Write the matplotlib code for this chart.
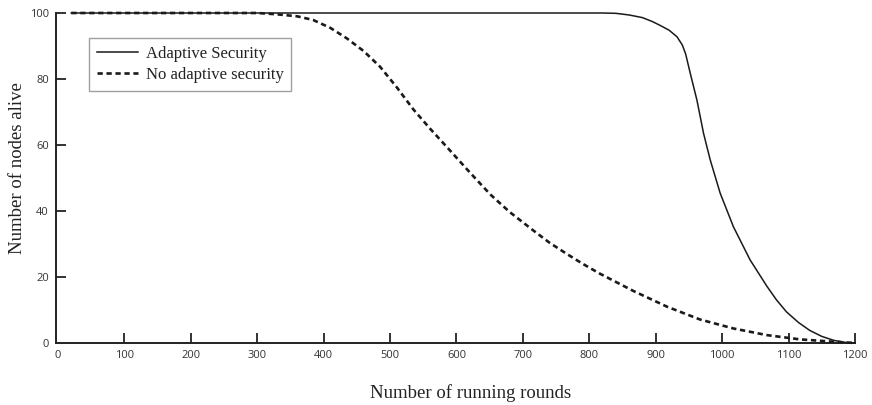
import matplotlib
matplotlib.use("Agg")
import matplotlib.pyplot as plt

# Rounds vs. alive nodes, with adaptive security
adaptive_rounds = [20, 300, 600, 820, 840, 860, 880, 895, 907, 920, 932, 940,
                   945, 952, 962, 972, 982, 997, 1017, 1042, 1067, 1082, 1097,
                   1115, 1132, 1150, 1168, 1185, 1200]
adaptive_alive = [100, 100, 100, 100, 99.9, 99.4, 98.6, 97.4, 96.2, 94.8,
                  92.8, 90.3, 87.6, 81.7, 73.6, 63.5, 55.5, 45.4, 35.2, 25.2,
                  17.3, 13.0, 9.4, 6.2, 3.8, 2.0, 0.8, 0.2, 0]

# Rounds vs. alive nodes, without adaptive security
plain_rounds = [20, 150, 300, 330, 360, 384, 410, 435, 460, 485, 510, 535, 560,
                585, 620, 651, 680, 715, 740, 766, 790, 816, 866, 917, 967,
                1017, 1067, 1117, 1167, 1200]
plain_alive = [100, 100, 100, 99.6, 99, 97.9, 95.5, 92.3, 88.5, 83.7, 77.5,
               70.8, 65, 59.5, 51.7, 45, 39.7, 34.2, 30.4, 27, 24, 21,
               15.8, 11, 7.1, 4.4, 2.4, 1.1, 0.4, 0]

x_ticks = [0, 100, 200, 300, 400, 500, 600, 700, 800, 900, 1000, 1100, 1200]
y_ticks = [0, 20, 40, 60, 80, 100]

W, H = 872, 405
fig = plt.figure(figsize=(W / 100, H / 100), dpi=100)
fig.patch.set_facecolor("white")
ax = fig.add_axes([56 / W, 1 - 343 / H, (855 - 56) / W, (343 - 13) / H])

ax.plot(adaptive_rounds, adaptive_alive, color="#1a1a1a", lw=1.1,
        label="Adaptive Security", clip_on=False, zorder=3)
ax.plot(plain_rounds, plain_alive, color="#1a1a1a", lw=1.9,
        linestyle=(0, (2.0, 1.4)), label="No adaptive security",
        clip_on=False, zorder=3)

ax.set_xlim(-3, 1200)
ax.set_ylim(0, 100)
ax.set_xticks(x_ticks)
ax.set_yticks(y_ticks)

for s in ("top", "right"):
    ax.spines[s].set_visible(False)
for s in ("left", "bottom"):
    ax.spines[s].set_linewidth(1.4)
    ax.spines[s].set_color("#222222")

ax.tick_params(axis="both", direction="in", length=7, width=1.3,
               color="#222222", labelcolor="#333333", labelsize=8)
ax.tick_params(axis="x", pad=5)
ax.tick_params(axis="y", pad=5)
for lbl in ax.get_xticklabels() + ax.get_yticklabels():
    lbl.set_family("Open Sans")
# the origin ticks sit on the spines, so their marks are not drawn
ax.xaxis.get_major_ticks()[0].tick1line.set_visible(False)
ax.yaxis.get_major_ticks()[0].tick1line.set_visible(False)

fig.text(471 / W, 1 - 393 / H, "Number of running rounds",
         family="Liberation Serif", fontsize=13.5, color="#222222",
         ha="center", va="center")
fig.text(17 / W, 1 - 168 / H, "Number of nodes alive",
         family="Liberation Serif", fontsize=13.5, color="#222222",
         ha="center", va="center", rotation=90)

leg = ax.legend(loc="upper left", bbox_to_anchor=(89 / W, 1 - 38 / H),
                bbox_transform=fig.transFigure, frameon=True, fancybox=False,
                prop={"family": "Liberation Serif", "size": 12},
                handlelength=2.5, handletextpad=0.45, labelspacing=0.35,
                borderpad=0.45, borderaxespad=0)
leg.get_frame().set_edgecolor("#888888")
leg.get_frame().set_linewidth(1.0)
for t in leg.get_texts():
    t.set_color("#222222")

fig.savefig("out.png", dpi=100, facecolor="white")
